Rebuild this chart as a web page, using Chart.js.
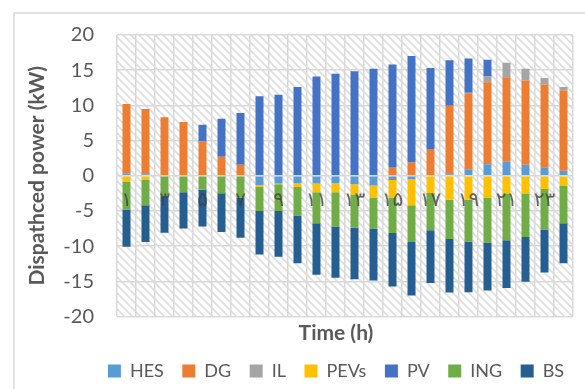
<!DOCTYPE html>
<html>
<head>
<meta charset="utf-8">
<script src="https://cdn.jsdelivr.net/npm/chart.js@4.4.1/dist/chart.umd.min.js"></script>
<style>
  html, body { margin: 0; background: #fff; }
  canvas { display: block; }
</style>
</head>
<body>
<canvas id="chart" width="585" height="389"></canvas>
<script>
// hours of the day, Persian digits
var hours = ["۱", "۲", "۳", "۴", "۵", "۶", "۷", "۸", "۹", "۱۰", "۱۱", "۱۲",
  "۱۳", "۱۴", "۱۵", "۱۶", "۱۷", "۱۸", "۱۹", "۲۰", "۲۱", "۲۲", "۲۳", "۲۴"];

// dispatched power per unit (kW), negative = absorbed
var hes = [0.3, 0.2, 0, 0, 0, 0, 0, -1.3, -1.1, -1.05, -1.1, -1.05, -1.2, -1.4, -0.6, -0.5, 0, 0.2, 0.85, 1.65, 2.0, 1.55, 1.2, 0.7];
var dg = [9.9, 9.3, 8.3, 7.65, 4.9, 2.7, 1.55, 0, 0, 0, 0, 0, 0, 0, 1.25, 1.9, 3.8, 9.75, 10.75, 11.65, 12.0, 12.0, 11.75, 11.4];
var il = [0, 0, 0, 0, 0, 0, 0, 0, 0, 0, 0, 0, 0, 0, 0, 0, 0, 0, 0.2, 0.8, 2.05, 1.65, 0.95, 0.5];
var pevs = [-0.9, -0.6, 0, 0, 0, 0, 0, -0.3, -0.1, -0.55, -1.25, -1.3, -1.45, -1.7, -2.55, -3.7, -2.45, -3.4, -3.4, -3.1, -2.6, -2.6, -1.9, -1.45];
var pv = [0, 0, 0, 0, 2.35, 5.4, 7.35, 11.3, 11.5, 12.6, 14.1, 14.5, 14.85, 15.2, 14.55, 15.1, 11.5, 6.45, 4.85, 2.4, 0, 0, 0, 0];
var ing = [-3.9, -3.6, -2.9, -2.35, -2.0, -2.5, -3.1, -3.4, -3.8, -4.05, -4.4, -4.85, -4.75, -4.4, -5.0, -5.2, -5.3, -5.6, -5.95, -6.4, -6.55, -6.1, -5.75, -5.3];
var bs = [-5.3, -5.2, -5.2, -5.15, -5.2, -5.5, -5.7, -6.2, -6.5, -6.8, -7.3, -7.3, -7.3, -7.4, -7.6, -7.6, -7.5, -7.6, -7.2, -6.8, -6.8, -6.35, -6.1, -5.7];

var series = [
  { label: "HES", data: hes, color: "#5B9BD5" },
  { label: "DG", data: dg, color: "#ED7D31" },
  { label: "IL", data: il, color: "#A5A5A5" },
  { label: "PEVs", data: pevs, color: "#FFC000" },
  { label: "PV", data: pv, color: "#4472C4" },
  { label: "ING", data: ing, color: "#70AD47" },
  { label: "BS", data: bs, color: "#255E91" }
];

var ctx = document.getElementById("chart").getContext("2d");

// diagonal hatch for the plot background
function makeHatch() {
  var c = document.createElement("canvas");
  c.width = 8;
  c.height = 8;
  var g = c.getContext("2d");
  g.fillStyle = "#ffffff";
  g.fillRect(0, 0, 8, 8);
  g.strokeStyle = "#dedede";
  g.lineWidth = 1.6;
  g.beginPath();
  g.moveTo(-1, -1); g.lineTo(9, 9);
  g.moveTo(-5, 3); g.lineTo(5, 13);
  g.moveTo(3, -5); g.lineTo(13, 5);
  g.stroke();
  return ctx.createPattern(c, "repeat");
}
var hatch = makeHatch();

var backdrop = {
  id: "backdrop",
  // legend and x title sit centred a bit right of the canvas middle
  afterLayout: function (chart) {
    [chart.legend, chart.titleBlock].forEach(function (b) {
      b.left = 80;
      b.right = 592;
      b.width = 512;
    });
  },
  beforeDraw: function (chart) {
    var c = chart.ctx, a = chart.chartArea;
    c.save();
    c.fillStyle = "#fff";
    c.fillRect(0, 0, chart.width, chart.height);
    // outer frame
    c.strokeStyle = "#d9d9d9";
    c.lineWidth = 1.5;
    c.beginPath();
    c.moveTo(14, chart.height);
    c.lineTo(14, 13);
    c.lineTo(chart.width, 13);
    c.stroke();
    c.fillStyle = hatch;
    c.fillRect(a.left, a.top, a.right - a.left, a.bottom - a.top);
    c.restore();
  }
};

var grey = "#595959";

new Chart(ctx, {
  type: "bar",
  data: {
    labels: hours,
    datasets: series.map(function (s) {
      return {
        label: s.label,
        data: s.data,
        backgroundColor: s.color,
        borderWidth: 0,
        categoryPercentage: 1,
        barPercentage: 0.42
      };
    })
  },
  options: {
    responsive: false,
    animation: false,
    devicePixelRatio: 1,
    layout: { padding: { top: 28, left: 18, right: 12, bottom: -1 } },
    scales: {
      x: {
        stacked: true,
        position: { y: 0 },
        border: { display: false },
        grid: { color: "#d9d9d9", lineWidth: 1.5, drawTicks: false, offset: true },
        ticks: {
          z: 1,
          autoSkip: false,
          maxRotation: 0,
          padding: 13,
          color: "rgba(64,64,64,0.8)",
          font: { family: "DejaVu Sans", size: 20 },
          callback: function (v, i) { return i % 2 === 0 ? hours[i] : ""; }
        }
      },
      y: {
        stacked: true,
        min: -20,
        max: 20,
        border: { display: false },
        grid: { color: "#d9d9d9", lineWidth: 1.5, drawTicks: false },
        ticks: {
          stepSize: 5,
          padding: 23,
          color: grey,
          font: { family: "Lato", size: 20 }
        },
        title: {
          display: true,
          text: "Dispathced power (kW)",
          color: grey,
          padding: { top: 7, bottom: 0 },
          font: { family: "Lato", size: 21, weight: "bold" }
        },
        afterFit: function (scale) { scale.width = 99; }
      }
    },
    plugins: {
      tooltip: { enabled: false },
      title: {
        display: true,
        position: "bottom",
        weight: 500,
        text: "Time (h)",
        color: grey,
        padding: { top: 6, bottom: 0 },
        font: { family: "Lato", size: 21, weight: "bold", lineHeight: 1 }
      },
      legend: {
        position: "bottom",
        labels: {
          boxWidth: 13,
          boxHeight: 13,
          padding: 18.5,
          color: grey,
          font: { family: "Lato", size: 18 }
        }
      }
    }
  },
  plugins: [backdrop]
});
</script>
</body>
</html>
